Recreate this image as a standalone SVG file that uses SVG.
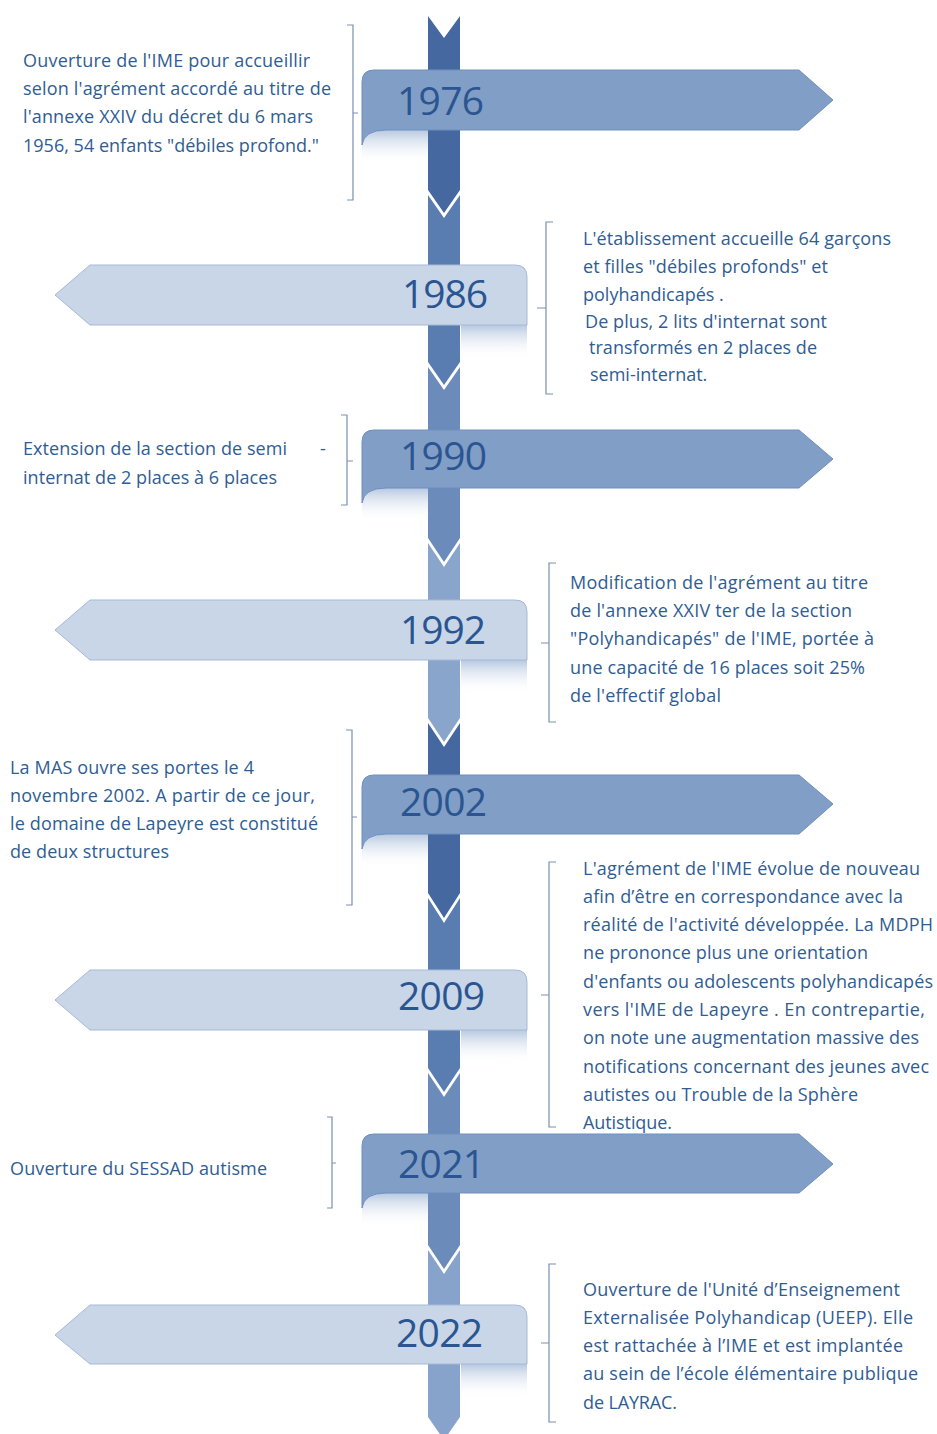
<svg xmlns="http://www.w3.org/2000/svg" width="937" height="1434" viewBox="0 0 937 1434">
<defs>
<linearGradient id="fade" x1="0" y1="0" x2="0" y2="1">
<stop offset="0" stop-color="#b3c5df" stop-opacity="0.95"/>
<stop offset="1" stop-color="#ffffff" stop-opacity="0"/>
</linearGradient>
<style>
.ra{fill:#819ec7;stroke:#6f8fbe;stroke-width:1}
.la{fill:#c8d6e8;stroke:#a5b9d6;stroke-width:1}
.yr{font-family:"Open Sans","Liberation Sans",sans-serif;font-size:39px;fill:#2b5591}
.tx{font-family:"Open Sans","Liberation Sans",sans-serif;font-size:18px;fill:#2f5d93}
.br{fill:none;stroke:#7a8fb0;stroke-width:1.2}
</style>
</defs>
<rect width="937" height="1434" fill="#ffffff"/>

<g id="fades">
<rect x="362" y="130" width="66" height="34" fill="url(#fade)"/>
<rect x="362" y="488" width="66" height="34" fill="url(#fade)"/>
<rect x="362" y="834" width="66" height="34" fill="url(#fade)"/>
<rect x="362" y="1193" width="66" height="34" fill="url(#fade)"/>
<rect x="461" y="325" width="66" height="34" fill="url(#fade)"/>
<rect x="461" y="660" width="66" height="34" fill="url(#fade)"/>
<rect x="461" y="1030" width="66" height="34" fill="url(#fade)"/>
<rect x="461" y="1364" width="66" height="34" fill="url(#fade)"/>
</g>

<g id="connectors">
<polygon points="428,16 444,38 460,16 460,190 444,213 428,190" fill="#44689f"/>
<polygon points="428,195 444,218 460,195 460,362 444,385 428,362" fill="#5a7db1"/>
<polygon points="428,367 444,390 460,367 460,538 444,562 428,538" fill="#6b8bba"/>
<polygon points="428,543 444,567 460,543 460,718 444,742 428,718" fill="#8aa5cc"/>
<polygon points="428,723 444,747 460,723 460,893 444,918 428,893" fill="#44689f"/>
<polygon points="428,898 444,923 460,898 460,1068 444,1092 428,1068" fill="#5a7db1"/>
<polygon points="428,1073 444,1097 460,1073 460,1245 444,1269 428,1245" fill="#6b8bba"/>
<polygon points="428,1250 444,1274 460,1250 460,1417 444,1440 428,1417" fill="#88a3cb"/>
</g>

<g id="n1976">
<path class="ra" d="M362,145 Q364,130 386,130 L799,130 L833,100 L799,70 L374,70 Q362,70 362,82 Z"/>
<text class="yr" x="397" y="115" textLength="87">1976</text>
</g>
<g id="n1990">
<path class="ra" d="M362,503 Q364,488 386,488 L799,488 L833,459 L799,430 L374,430 Q362,430 362,442 Z"/>
<text class="yr" x="400" y="470" textLength="87">1990</text>
</g>
<g id="n2002">
<path class="ra" d="M362,849 Q364,834 386,834 L799,834 L833,804 L799,775 L374,775 Q362,775 362,787 Z"/>
<text class="yr" x="400" y="816" textLength="87">2002</text>
</g>
<g id="n2021">
<path class="ra" d="M362,1208 Q364,1193 386,1193 L799,1193 L833,1164 L799,1134 L374,1134 Q362,1134 362,1146 Z"/>
<text class="yr" x="398" y="1178" textLength="87">2021</text>
</g>

<g id="n1986">
<path class="la" d="M527,277 Q527,265 515,265 L90,265 L55,295 L90,325 L527,325 Z"/>
<text class="yr" x="402" y="308" textLength="86">1986</text>
</g>
<g id="n1992">
<path class="la" d="M527,612 Q527,600 515,600 L90,600 L55,630 L90,660 L527,660 Z"/>
<text class="yr" x="400" y="644" textLength="86">1992</text>
</g>
<g id="n2009">
<path class="la" d="M527,982 Q527,970 515,970 L90,970 L55,1000 L90,1030 L527,1030 Z"/>
<text class="yr" x="398" y="1010" textLength="87">2009</text>
</g>
<g id="n2022">
<path class="la" d="M527,1317 Q527,1305 515,1305 L90,1305 L55,1335 L90,1364 L527,1364 Z"/>
<text class="yr" x="396" y="1347" textLength="87">2022</text>
</g>

<g id="t1976">
<path class="br" d="M347,25 H353 V200 H347 M353,113 H358"/>
<text class="tx" x="23" y="67" textLength="287">Ouverture de l'IME pour accueillir</text>
<text class="tx" x="23" y="95" textLength="308">selon l'agrément accordé au titre de</text>
<text class="tx" x="23" y="123" textLength="290">l'annexe XXIV du décret du 6 mars</text>
<text class="tx" x="23" y="152" textLength="296">1956, 54 enfants "débiles profond."</text>
</g>
<g id="t1986">
<path class="br" d="M553,222 H546 V394 H553 M546,308 H537"/>
<text class="tx" x="583" y="245" textLength="308">L'établissement accueille 64 garçons</text>
<text class="tx" x="583" y="273" textLength="245">et filles "débiles profonds" et</text>
<text class="tx" x="583" y="301">polyhandicapés .</text>
<text class="tx" x="585" y="328" textLength="242">De plus, 2 lits d'internat sont</text>
<text class="tx" x="589" y="354" textLength="228">transformés en 2 places de</text>
<text class="tx" x="590" y="381">semi-internat.</text>
</g>
<g id="t1990">
<path class="br" d="M341,415 H347 V505 H341 M347,461 H353"/>
<text class="tx" x="23" y="455" textLength="264">Extension de la section de semi</text>
<text class="tx" x="320" y="455">-</text>
<text class="tx" x="23" y="484" textLength="254">internat de 2 places à 6 places</text>
</g>
<g id="t1992">
<path class="br" d="M556,563 H549 V722 H556 M549,643 H541"/>
<text class="tx" x="570" y="589" textLength="298">Modification de l'agrément au titre</text>
<text class="tx" x="570" y="617" textLength="282">de l'annexe XXIV ter de la section</text>
<text class="tx" x="570" y="645" textLength="304">"Polyhandicapés" de l'IME, portée à</text>
<text class="tx" x="570" y="674" textLength="295">une capacité de 16 places soit 25%</text>
<text class="tx" x="570" y="702" textLength="151">de l'effectif global</text>
</g>
<g id="t2002">
<path class="br" d="M346,730 H352 V905 H346 M352,817 H357"/>
<text class="tx" x="10" y="774" textLength="244">La MAS ouvre ses portes le 4</text>
<text class="tx" x="10" y="802" textLength="305">novembre 2002. A partir de ce jour,</text>
<text class="tx" x="10" y="830" textLength="308">le domaine de Lapeyre est constitué</text>
<text class="tx" x="10" y="858" textLength="159">de deux structures</text>
</g>
<g id="t2009">
<path class="br" d="M556,862 H549 V1127 H556 M549,995 H541"/>
<text class="tx" x="583" y="875" textLength="337">L'agrément de l'IME évolue de nouveau</text>
<text class="tx" x="583" y="903" textLength="320">afin d’être en correspondance avec la</text>
<text class="tx" x="583" y="931" textLength="350">réalité de l'activité développée. La MDPH</text>
<text class="tx" x="583" y="959" textLength="285">ne prononce plus une orientation</text>
<text class="tx" x="583" y="988" textLength="350">d'enfants ou adolescents polyhandicapés</text>
<text class="tx" x="583" y="1016" textLength="342">vers l'IME de Lapeyre .  En contrepartie,</text>
<text class="tx" x="583" y="1044" textLength="336">on note une augmentation massive des</text>
<text class="tx" x="583" y="1073" textLength="346">notifications concernant des jeunes avec</text>
<text class="tx" x="583" y="1101" textLength="275">autistes ou Trouble de la Sphère</text>
<text class="tx" x="583" y="1129" textLength="89">Autistique.</text>
</g>
<g id="t2021">
<path class="br" d="M327,1117 H332 V1208 H327 M332,1163 H336"/>
<text class="tx" x="10" y="1175" textLength="257">Ouverture du SESSAD autisme</text>
</g>
<g id="t2022">
<path class="br" d="M556,1264 H549 V1422 H556 M549,1343 H541"/>
<text class="tx" x="583" y="1296" textLength="317">Ouverture de l'Unité d’Enseignement</text>
<text class="tx" x="583" y="1324" textLength="330">Externalisée Polyhandicap (UEEP).  Elle</text>
<text class="tx" x="583" y="1352" textLength="320">est rattachée à l’IME et est implantée</text>
<text class="tx" x="583" y="1380" textLength="335">au sein de l’école élémentaire publique</text>
<text class="tx" x="583" y="1409" textLength="94">de LAYRAC.</text>
</g>
</svg>
